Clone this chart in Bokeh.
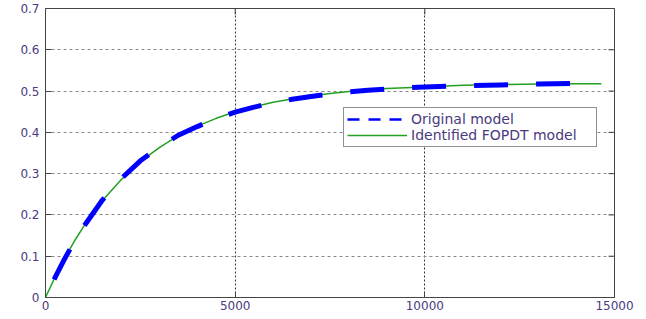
import math
from bokeh.plotting import figure
from bokeh.models import Range1d, FixedTicker, Legend, LegendItem
from bokeh.embed import file_html
from bokeh.resources import INLINE

# Time (s) and step responses
t_fit = [0, 250, 500, 750, 1000, 1500, 2000, 2500, 3000, 3500, 4000, 4500, 5000,
         5500, 6000, 6500, 7000, 7500, 8000, 8500, 9000, 9500, 10000, 11000,
         12000, 13000, 14000, 14650]
y_fit = [0.0, 0.049, 0.094, 0.135, 0.171, 0.235, 0.286, 0.329, 0.363, 0.392,
         0.415, 0.434, 0.450, 0.462, 0.473, 0.481, 0.488, 0.494, 0.499, 0.503,
         0.506, 0.508, 0.510, 0.514, 0.516, 0.517, 0.518, 0.518]

t_orig = [0, 250, 500, 750, 1000, 1500, 2000, 2500, 3000, 3500, 4000, 4500, 5000,
          5500, 6000, 6500, 7000, 7500, 8000, 8500, 9000, 9500, 10000, 11000,
          12000, 13000, 14050]
y_orig = [0.0, 0.048, 0.093, 0.134, 0.171, 0.236, 0.288, 0.331, 0.364, 0.393,
          0.414, 0.433, 0.449, 0.461, 0.472, 0.480, 0.487, 0.493, 0.498, 0.502,
          0.505, 0.508, 0.510, 0.513, 0.515, 0.517, 0.519]

x_ticks = [0, 5000, 10000, 15000]
y_ticks = [0, 0.1, 0.2, 0.3, 0.4, 0.5, 0.6, 0.7]
x_min, x_max = 0, 15000
y_min, y_max = 0, 0.7

FONT = "DejaVu Sans"
TICK_COLOR = "#4a3a80"
FRAME_COLOR = "#444444"

p = figure(output_backend="svg", toolbar_location=None,
           frame_width=569, frame_height=289,
           min_border_left=45, min_border_right=30,
           min_border_top=8, min_border_bottom=20,
           x_range=Range1d(x_min, x_max), y_range=Range1d(y_min, y_max),
           background_fill_color="white", border_fill_color="white")
p.outline_line_color = FRAME_COLOR
p.outline_line_width = 1

for ax in (p.xaxis[0], p.yaxis[0]):
    ax.major_label_text_font = FONT
    ax.major_label_text_font_size = "12px"
    ax.major_label_text_color = TICK_COLOR
    ax.axis_line_color = None
    ax.major_tick_in = 6
    ax.major_tick_out = 0
    ax.major_tick_line_color = FRAME_COLOR
    ax.minor_tick_line_color = None
p.xaxis[0].ticker = FixedTicker(ticks=x_ticks)
p.yaxis[0].ticker = FixedTicker(ticks=y_ticks)
p.xaxis[0].major_label_standoff = 3
p.yaxis[0].major_label_standoff = 6
p.yaxis[0].major_label_overrides = {0: "0"}

# inward tick marks on the right and top frame edges (clipped to the frame)
p.scatter([x_max] * len(y_ticks), y_ticks, marker="dash", size=12,
          line_color=FRAME_COLOR, line_width=1)
p.scatter(x_ticks, [y_max] * len(x_ticks), marker="dash", size=12,
          angle=math.pi / 2, line_color=FRAME_COLOR, line_width=1)

p.xgrid.ticker = FixedTicker(ticks=[5000, 10000])
p.xgrid.grid_line_color = "#333333"
p.xgrid.grid_line_dash = "2 2"
p.xgrid.grid_line_width = 1
p.ygrid.ticker = FixedTicker(ticks=[0.1, 0.2, 0.3, 0.4, 0.5, 0.6])
p.ygrid.grid_line_color = "#888888"
p.ygrid.grid_line_dash = "3 3"
p.ygrid.grid_line_width = 1

r_fit = p.line(t_fit, y_fit, line_color="#22a022", line_width=1.5)
r_orig = p.line(t_orig, y_orig, line_color="#0000ff", line_width=5,
                line_dash="34 28", line_dash_offset=42)

# legend sample for the original model (thinner dashes, as in the reference);
# a single-point line draws nothing in the plot itself
r_orig_key = p.line(t_orig[:1], y_orig[:1], line_color="#0000ff", line_width=2.5,
                    line_dash="12 9")

legend = Legend(items=[LegendItem(label="Original model", renderers=[r_orig_key]),
                       LegendItem(label="Identified FOPDT model", renderers=[r_fit])],
                location=(298, 150))
legend.label_text_font = FONT
legend.label_text_font_size = "14px"
legend.label_text_color = TICK_COLOR
legend.glyph_width = 60
legend.glyph_height = 14
legend.label_height = 14
legend.label_width = 182
legend.label_standoff = 4
legend.padding = 3
legend.spacing = 0
legend.margin = 0
legend.border_line_color = "#222222"
legend.border_line_width = 1
legend.background_fill_color = "white"
legend.background_fill_alpha = 1
p.add_layout(legend, "center")

open("out.html", "w").write(file_html(p, INLINE))
